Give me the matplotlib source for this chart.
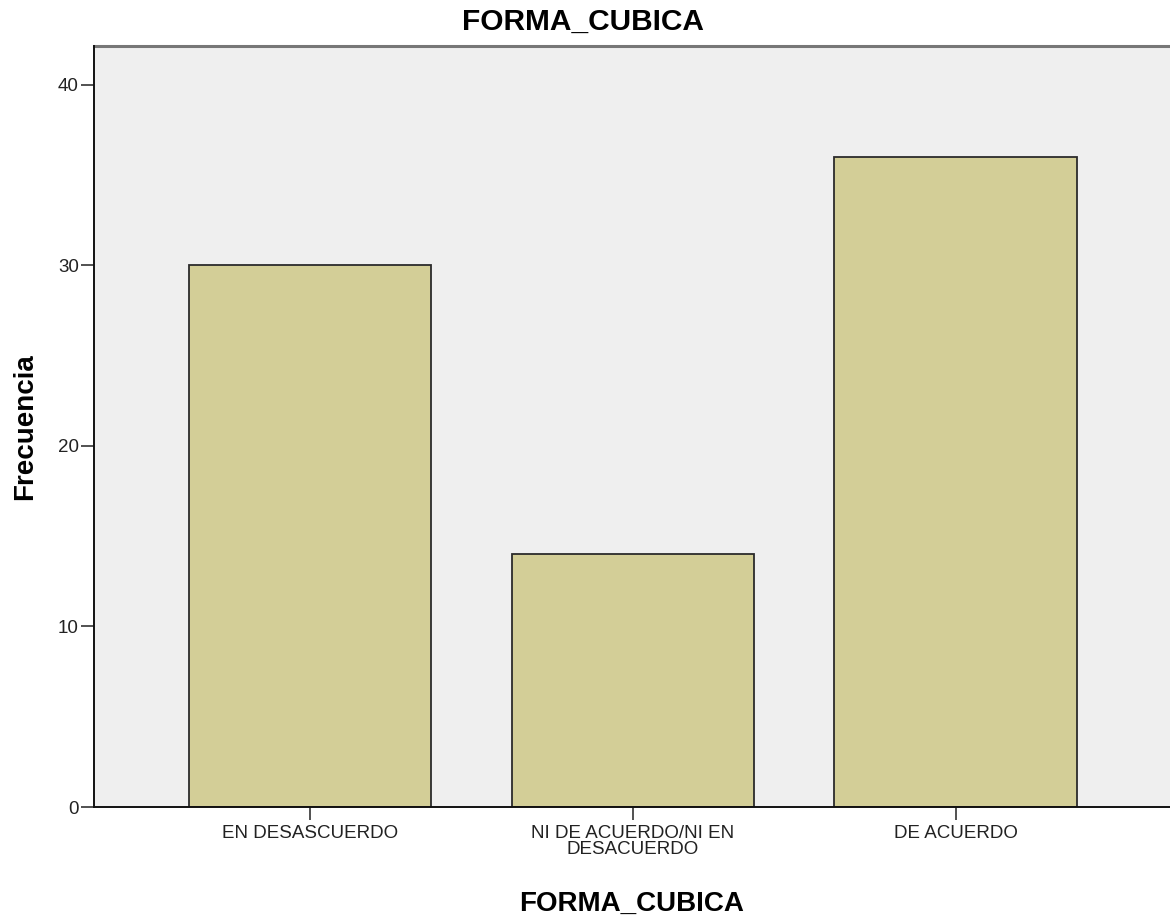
import matplotlib
matplotlib.use("Agg")
import matplotlib.pyplot as plt

# Frequencies per response category
categories = ["EN DESASCUERDO", "NI DE ACUERDO/NI EN\nDESACUERDO", "DE ACUERDO"]
frecuencias = [30, 14, 36]
y_ticks = [0, 10, 20, 30, 40]

plt.rcParams["font.family"] = ["Liberation Sans", "DejaVu Sans"]

W, H = 1170, 918
fig = plt.figure(figsize=(W / 100, H / 100), dpi=100)
ax = fig.add_axes([94 / W, 1 - 807 / H, (1170 - 94) / W, (807 - 46) / H])
ax.set_facecolor("#EFEFEF")

x = list(range(len(categories)))
ax.bar(x, frecuencias, width=0.752, color="#D3CE97", edgecolor="#2b2b2b",
       linewidth=1.3, zorder=2)

ax.set_xlim(-0.669, 2.663)
ax.set_ylim(0, 42.16)
ax.set_yticks(y_ticks)
ax.set_yticklabels([str(t) for t in y_ticks], fontsize=13.5, color="#222222")
ax.set_xticks(x)
ax.set_xticklabels(categories, fontsize=13.5, color="#222222", linespacing=0.92)

ax.tick_params(axis="both", direction="out", length=9.5, width=1.1, color="#222222")
ax.tick_params(axis="x", pad=3.5)
ax.tick_params(axis="y", pad=1.5)

for side in ("left", "bottom"):
    ax.spines[side].set_color("#111111")
    ax.spines[side].set_linewidth(1.4)
    ax.spines[side].set_zorder(3)
ax.spines["top"].set_color("#777777")
ax.spines["top"].set_linewidth(2.2)
ax.spines["right"].set_visible(False)

ax.set_xlabel("FORMA_CUBICA", fontsize=20, fontweight="bold", labelpad=24)
ax.set_ylabel("Frecuencia", fontsize=20, fontweight="bold", labelpad=14)
fig.text(583 / W, 1 - 22 / H, "FORMA_CUBICA", fontsize=21.5, fontweight="bold",
         ha="center", va="center")

fig.savefig("out.png", dpi=100)
